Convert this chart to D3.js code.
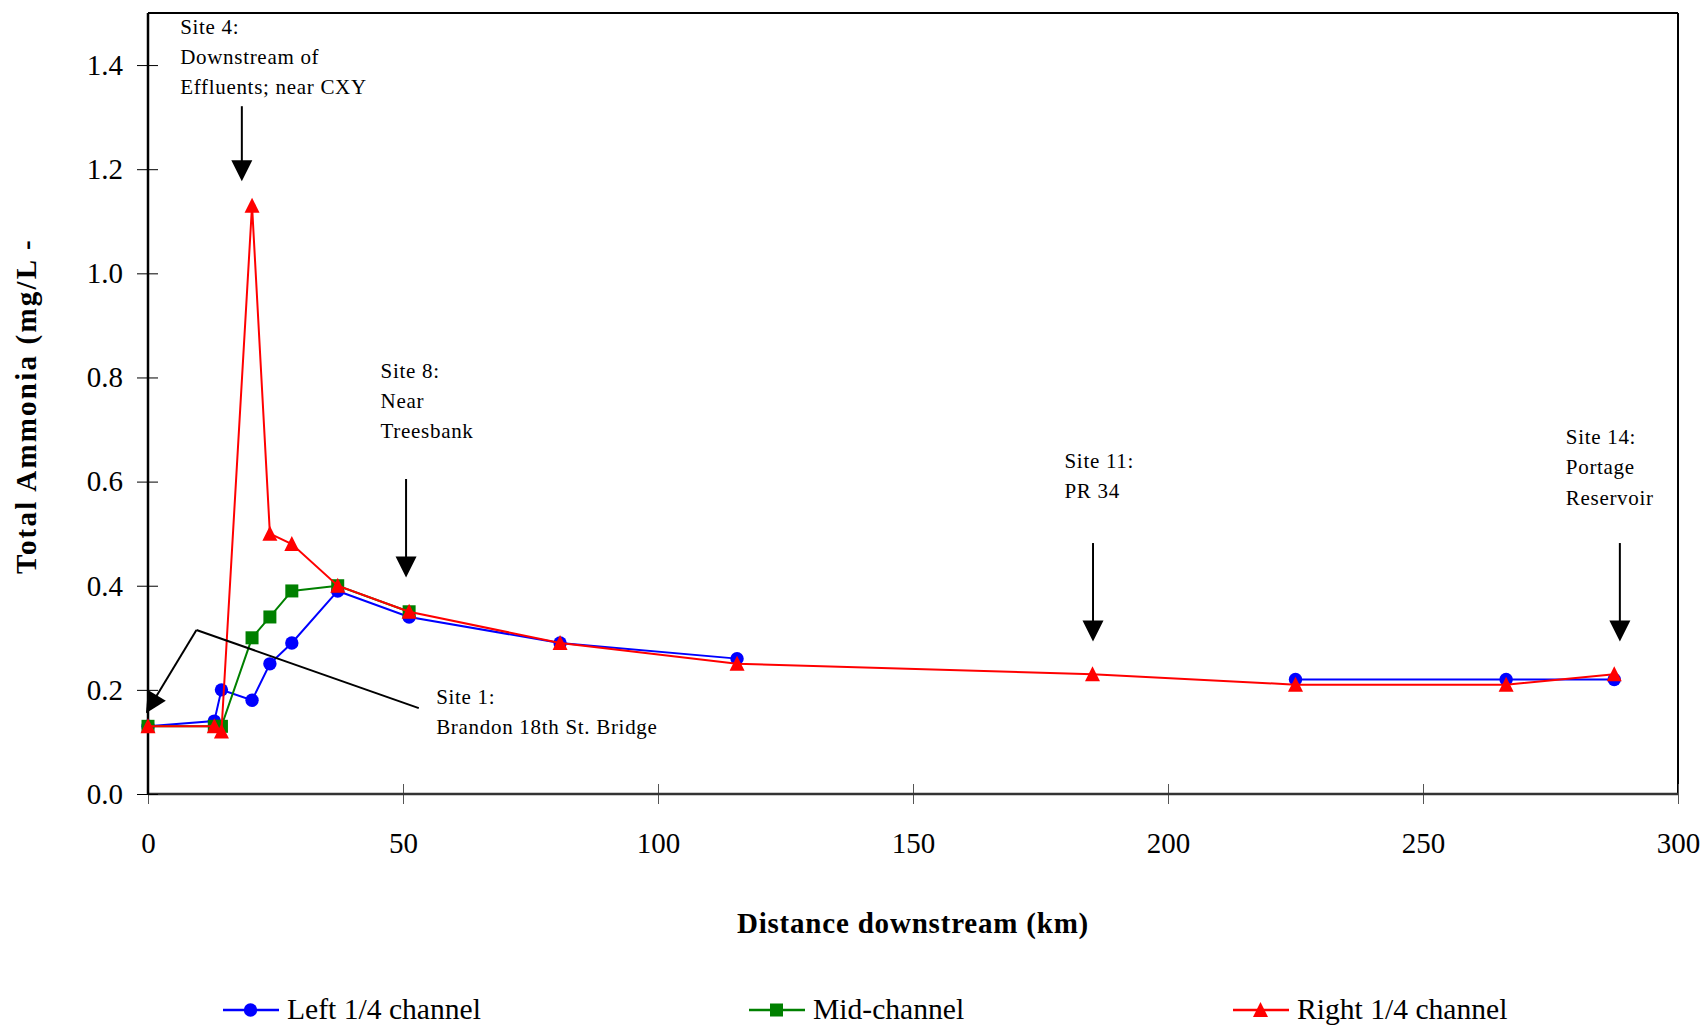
<!DOCTYPE html>
<html>
<head>
<meta charset="utf-8">
<script src="https://cdn.jsdelivr.net/npm/d3@7"></script>
<style>
  html, body { margin: 0; padding: 0; background: #ffffff; }
  svg { display: block; }
  text { font-family: "Liberation Serif", "Times New Roman", serif; fill: #000; }
</style>
</head>
<body>
<svg id="chart" width="1705" height="1025"></svg>
<script>
// ---------------- DATA ----------------
const xTicks = [0, 50, 100, 150, 200, 250, 300];
const yTicks = [0.0, 0.2, 0.4, 0.6, 0.8, 1.0, 1.2, 1.4];

// null = no sample (gap in the line)
const leftKm    = [0, 13, 14.4, 20.4, 23.9, 28.2, 37.2, 51.2, 80.8, 115.5, 185.2, 225, 266.3, 287.5];
const leftVals  = [0.13, 0.14, 0.20, 0.18, 0.25, 0.29, 0.39, 0.34, 0.29, 0.26, null, 0.22, 0.22, 0.22];

const midKm     = [0, 13, 14.4, 20.4, 23.9, 28.2, 37.2, 51.2];
const midVals   = [0.13, 0.13, 0.13, 0.30, 0.34, 0.39, 0.40, 0.35];

const rightKm   = [0, 13, 14.4, 20.4, 23.9, 28.2, 37.2, 51.2, 80.8, 115.5, 185.2, 225, 266.3, 287.5];
const rightVals = [0.13, 0.13, 0.12, 1.13, 0.50, 0.48, 0.40, 0.35, 0.29, 0.25, 0.23, 0.21, 0.21, 0.23];

const seriesNames = ["Left 1/4 channel", "Mid-channel", "Right 1/4 channel"];

const xTitle = "Distance downstream (km)";
const yTitle = "Total Ammonia (mg/L -";

// annotation labels (text lines, anchor in km / mg/L)
const siteLabels = [
  { lines: ["Site 4:", "Downstream of", "Effluents; near CXY"], km: 6.3, val: 1.460 },
  { lines: ["Site 8:", "Near", "Treesbank"], km: 45.6, val: 0.799 },
  { lines: ["Site 11:", "PR 34"], km: 179.7, val: 0.626 },
  { lines: ["Site 14:", "Portage", "Reservoir"], km: 278.0, val: 0.672 },
  { lines: ["Site 1:", "Brandon 18th St. Bridge"], km: 56.5, val: 0.173 }
];
// vertical arrows: km, top value, tip value
const siteArrows = [
  { km: 18.4, top: 1.321, tip: 1.177 },
  { km: 50.6, top: 0.605, tip: 0.416 },
  { km: 185.3, top: 0.482, tip: 0.293 },
  { km: 288.6, top: 0.482, tip: 0.293 }
];
// Site 1 callout polyline (km, value), last point is the arrow tip
const site1Callout = [[53.1, 0.165], [9.5, 0.315], [-0.4, 0.155]];

(function () {
// ---------------- LAYOUT ----------------
const pL = 148, pR = 1678, pT = 13, pB = 794;
const svg = d3.select("#chart");

const x = d3.scaleLinear().domain([0, 300]).range([pL, pR]);
const y = d3.scaleLinear().domain([0, 1.5]).range([pB, pT]);

const colors = ["#0000ff", "#008000", "#ff0000"];

// plot border (top and right)
svg.append("line").attr("x1", pL).attr("x2", pR).attr("y1", pT).attr("y2", pT)
  .attr("stroke", "#000").attr("stroke-width", 2);
svg.append("line").attr("x1", pR).attr("x2", pR).attr("y1", pT).attr("y2", pB)
  .attr("stroke", "#000").attr("stroke-width", 2);

// X axis
const xAxis = svg.append("g").attr("transform", `translate(0,${pB})`)
  .call(d3.axisBottom(x).tickValues(xTicks).tickFormat(d3.format("d")).tickSize(10).tickPadding(28));
xAxis.select(".domain").remove();
xAxis.selectAll(".tick line").attr("y1", -10).attr("y2", 10).attr("stroke", "#555").attr("stroke-width", 1);
xAxis.attr("font-family", null).attr("font-size", null);
xAxis.selectAll(".tick text").style("font-size", "29px");
svg.append("line").attr("x1", pL).attr("x2", pR).attr("y1", pB).attr("y2", pB)
  .attr("stroke", "#333").attr("stroke-width", 2.5);

// Y axis
const yAxis = svg.append("g").attr("transform", `translate(${pL},0)`)
  .call(d3.axisLeft(y).tickValues(yTicks).tickFormat(d3.format(".1f")).tickSize(11).tickPadding(14));
yAxis.select(".domain").remove();
yAxis.selectAll(".tick line").attr("x2", -11).attr("x1", 10).attr("stroke", "#000").attr("stroke-width", 1);
yAxis.attr("font-family", null).attr("font-size", null);
yAxis.selectAll(".tick text").style("font-size", "29px");
svg.append("line").attr("x1", pL).attr("x2", pL).attr("y1", pT).attr("y2", pB + 1)
  .attr("stroke", "#000").attr("stroke-width", 2.5);

// axis titles
svg.append("text").attr("x", (pL + pR) / 2).attr("y", 933)
  .attr("text-anchor", "middle").style("font-size", "29px").style("font-weight", "bold")
  .style("letter-spacing", "0.8px").text(xTitle);
svg.append("text").attr("transform", "translate(36,406) rotate(-90)")
  .attr("text-anchor", "middle").style("font-size", "29px").style("font-weight", "bold")
  .style("letter-spacing", "2.2px").text(yTitle);

// ---------------- SERIES ----------------
const series = [
  { km: leftKm, vals: leftVals, shape: "circle" },
  { km: midKm, vals: midVals, shape: "square" },
  { km: rightKm, vals: rightVals, shape: "triangle" }
];
const line = d3.line().defined(d => d[1] != null).x(d => x(d[0])).y(d => y(d[1]));

function drawMarker(g, shape, cx, cy, color) {
  if (shape === "circle") {
    g.append("circle").attr("cx", cx).attr("cy", cy).attr("r", 6.7).attr("fill", color);
  } else if (shape === "square") {
    g.append("rect").attr("x", cx - 6.5).attr("y", cy - 6.5).attr("width", 13).attr("height", 13).attr("fill", color);
  } else {
    const hw = 7.5, hh = 7;
    g.append("path").attr("d", `M${cx},${cy - hh - 1}L${cx + hw},${cy + hh}L${cx - hw},${cy + hh}Z`).attr("fill", color);
  }
}

series.forEach((s, i) => {
  const pts = s.km.map((k, j) => [k, s.vals[j]]);
  const g = svg.append("g");
  g.append("path").attr("d", line(pts)).attr("fill", "none")
    .attr("stroke", colors[i]).attr("stroke-width", 2);
  pts.filter(p => p[1] != null).forEach(p => drawMarker(g, s.shape, x(p[0]), y(p[1]), colors[i]));
});

// ---------------- ANNOTATIONS ----------------
function arrowHead(g, x1, y1, x2, y2) {
  const len = 21, hw = 10.5;
  const dx = x2 - x1, dy = y2 - y1, d = Math.hypot(dx, dy);
  const ux = dx / d, uy = dy / d;
  const bx = x2 - ux * len, by = y2 - uy * len;
  g.append("line").attr("x1", x1).attr("y1", y1).attr("x2", bx + ux).attr("y2", by + uy)
    .attr("stroke", "#000").attr("stroke-width", 2);
  g.append("path").attr("d",
    `M${x2},${y2}L${bx - uy * hw},${by + ux * hw}L${bx + uy * hw},${by - ux * hw}Z`)
    .attr("fill", "#000");
}
const ann = svg.append("g");
siteArrows.forEach(a => arrowHead(ann, x(a.km), y(a.top), x(a.km), y(a.tip)));

const cp = site1Callout.map(p => [x(p[0]), y(p[1])]);
ann.append("line").attr("x1", cp[0][0]).attr("y1", cp[0][1]).attr("x2", cp[1][0]).attr("y2", cp[1][1])
  .attr("stroke", "#000").attr("stroke-width", 2);
arrowHead(ann, cp[1][0], cp[1][1], cp[2][0], cp[2][1]);

siteLabels.forEach(l => {
  const t = ann.append("text").attr("x", x(l.km)).attr("y", y(l.val))
    .style("font-size", "21px").style("letter-spacing", "0.7px");
  l.lines.forEach((ln, i) => {
    t.append("tspan").attr("x", x(l.km)).attr("dy", i === 0 ? 0 : 30.2).text(ln);
  });
});

// ---------------- LEGEND ----------------
const legendX = [223, 749, 1233];
const legendY = 1010;
const shapes = ["circle", "square", "triangle"];
seriesNames.forEach((name, i) => {
  const g = svg.append("g");
  const lx = legendX[i];
  g.append("line").attr("x1", lx).attr("x2", lx + 56).attr("y1", legendY).attr("y2", legendY)
    .attr("stroke", colors[i]).attr("stroke-width", 2.5);
  drawMarker(g, shapes[i], lx + 27.5, legendY, colors[i]);
  g.append("text").attr("x", lx + 64).attr("y", legendY + 8.5)
    .style("font-size", "29.6px").text(name);
});
})();
</script>
</body>
</html>
